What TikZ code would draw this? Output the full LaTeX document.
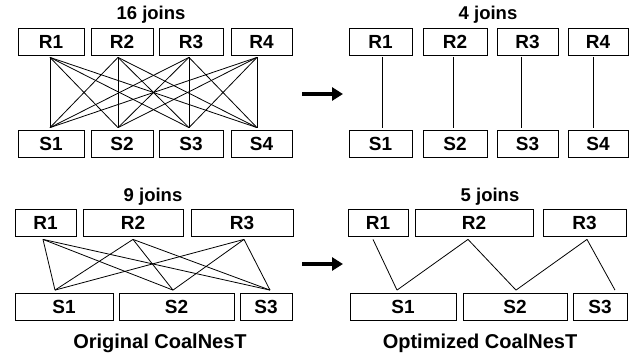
\documentclass[tikz,border=0pt]{standalone}
\usepackage{fontspec}
\setmainfont{Liberation Sans}
\usetikzlibrary{arrows.meta,positioning}

\begin{document}
\begin{tikzpicture}[
    x=1pt, y=-1pt,
    relbox/.style={draw, line width=0.8pt, minimum height=27pt, inner sep=0pt,
        font=\fontsize{19}{21}\selectfont\bfseries},
    joinline/.style={line width=0.8pt},
    count label/.style={font=\fontsize{18.5}{20}\selectfont\bfseries},
    caption label/.style={font=\fontsize{20}{22}\selectfont\bfseries},
    big arrow/.style={-{Triangle[length=11pt,width=13pt]}, line width=4.5pt}
]

\useasboundingbox (0,0) rectangle (638,362);

% === Panel (a): original, 4 x 4 ===
\node[count label] (ajoins) at (151,15) {16 joins};

\node[relbox, minimum width=66pt] (ar1) at (51,41.5) {R1};
\node[relbox, minimum width=62pt] (ar2) at (122,41.5) {R2};
\node[relbox, minimum width=64pt] (ar3) at (191,41.5) {R3};
\node[relbox, minimum width=61pt] (ar4) at (261.5,41.5) {R4};

\node[relbox, minimum width=66pt] (as1) at (51,143.5) {S1};
\node[relbox, minimum width=62pt] (as2) at (122,143.5) {S2};
\node[relbox, minimum width=64pt] (as3) at (191,143.5) {S3};
\node[relbox, minimum width=61pt] (as4) at (261.5,143.5) {S4};

% join end points
\coordinate (ar1j) at ([xshift=-1pt,yshift=-2pt]ar1.south);
\coordinate (ar2j) at ([xshift=-4pt,yshift=-2pt]ar2.south);
\coordinate (ar3j) at ([xshift=-2pt,yshift=-2pt]ar3.south);
\coordinate (ar4j) at ([xshift=-4.5pt,yshift=-2pt]ar4.south);
\coordinate (as1j) at ([xshift=-1pt,yshift=2pt]as1.north);
\coordinate (as2j) at ([xshift=-4pt,yshift=2pt]as2.north);
\coordinate (as3j) at ([xshift=-2pt,yshift=2pt]as3.north);
\coordinate (as4j) at ([xshift=-4.5pt,yshift=2pt]as4.north);

% every R with every S
\foreach \i in {1,...,4}
  \foreach \j in {1,...,4}
    \draw[joinline] (ar\i j) -- (as\j j);

% === Panel (b): optimized, 4 x 4 ===
\node[count label] (bjoins) at (488,15) {4 joins};

\node[relbox, minimum width=63pt] (br1) at (380.5,41.5) {R1};
\node[relbox, minimum width=64pt] (br2) at (455,41.5) {R2};
\node[relbox, minimum width=61pt] (br3) at (527.5,41.5) {R3};
\node[relbox, minimum width=60pt] (br4) at (598,41.5) {R4};

\node[relbox, minimum width=63pt] (bs1) at (380.5,143.5) {S1};
\node[relbox, minimum width=64pt] (bs2) at (455,143.5) {S2};
\node[relbox, minimum width=61pt] (bs3) at (527.5,143.5) {S3};
\node[relbox, minimum width=60pt] (bs4) at (598,143.5) {S4};

\draw[joinline] ([xshift=1.5pt,yshift=-2pt]br1.south) -- ([xshift=1.5pt,yshift=2pt]bs1.north);
\draw[joinline] ([xshift=-2pt,yshift=-2pt]br2.south) -- ([xshift=-2pt,yshift=2pt]bs2.north);
\draw[joinline] ([xshift=-6.5pt,yshift=-2pt]br3.south) -- ([xshift=-6.5pt,yshift=2pt]bs3.north);
\draw[joinline] ([xshift=-5pt,yshift=-2pt]br4.south) -- ([xshift=-5pt,yshift=2pt]bs4.north);

% arrow between panels
\coordinate (atail) at (302,94);
\coordinate (ahead) at (343,94);
\draw[big arrow] (atail) -- (ahead);

% === Panel (c): original, 3 x 3 ===
\node[count label] (cjoins) at (153,197) {9 joins};

\node[relbox, minimum width=61pt] (cr1) at (45.5,222.5) {R1};
\node[relbox, minimum width=100pt] (cr2) at (133,222.5) {R2};
\node[relbox, minimum width=102pt] (cr3) at (242,222.5) {R3};

\node[relbox, minimum width=98pt] (cs1) at (64,307) {S1};
\node[relbox, minimum width=115pt] (cs2) at (176.5,307) {S2};
\node[relbox, minimum width=52pt] (cs3) at (266,307) {S3};

\coordinate (cr1j) at ([xshift=-2.5pt,yshift=-3pt]cr1.south);
\coordinate (cr2j) at ([yshift=-3pt]cr2.south);
\coordinate (cr3j) at ([xshift=2pt,yshift=-3pt]cr3.south);
\coordinate (cs1j) at ([xshift=-9pt,yshift=3pt]cs1.north);
\coordinate (cs2j) at ([xshift=-3.5pt,yshift=3pt]cs2.north);
\coordinate (cs3j) at ([xshift=4pt,yshift=3pt]cs3.north);

\draw[joinline] (cr1j) -- (cs1j);
\draw[joinline] (cr1j) -- (cs2j);
\draw[joinline] (cr1j) -- (cs3j);
\draw[joinline] (cr2j) -- (cs1j);
\draw[joinline] (cr2j) -- (cs2j);
\draw[joinline] (cr2j) -- (cs3j);
\draw[joinline] (cr3j) -- (cs1j);
\draw[joinline] (cr3j) -- (cs2j);
\draw[joinline] (cr3j) -- (cs3j);

% === Panel (d): optimized, 3 x 3 ===
\node[count label] (djoins) at (490,197) {5 joins};

\node[relbox, minimum width=60pt] (dr1) at (378,222.5) {R1};
\node[relbox, minimum width=118pt] (dr2) at (474,222.5) {R2};
\node[relbox, minimum width=83pt] (dr3) at (584.5,222.5) {R3};

\node[relbox, minimum width=106pt] (ds1) at (403,307) {S1};
\node[relbox, minimum width=104pt] (ds2) at (515,307) {S2};
\node[relbox, minimum width=54pt] (ds3) at (600,307) {S3};

\coordinate (dr1j) at ([xshift=-5pt,yshift=-3pt]dr1.south);
\coordinate (dr2j) at ([xshift=-6pt,yshift=-3pt]dr2.south);
\coordinate (dr3j) at ([xshift=2.5pt,yshift=-3pt]dr3.south);
\coordinate (ds1j) at ([xshift=-6pt,yshift=3pt]ds1.north);
\coordinate (ds2j) at ([xshift=1pt,yshift=3pt]ds2.north);
\coordinate (ds3j) at ([xshift=15pt,yshift=3pt]ds3.north);

\draw[joinline] (dr1j) -- (ds1j);
\draw[joinline] (dr2j) -- (ds1j);
\draw[joinline] (dr2j) -- (ds2j);
\draw[joinline] (dr3j) -- (ds2j);
\draw[joinline] (dr3j) -- (ds3j);

% arrow between panels
\coordinate (btail) at (302,264);
\coordinate (bhead) at (343,264);
\draw[big arrow] (btail) -- (bhead);

% Captions
\node[caption label] (corig) at (160,343) {Original CoalNesT};
\node[caption label] (copt) at (480,343) {Optimized CoalNesT};

\end{tikzpicture}
\end{document}
